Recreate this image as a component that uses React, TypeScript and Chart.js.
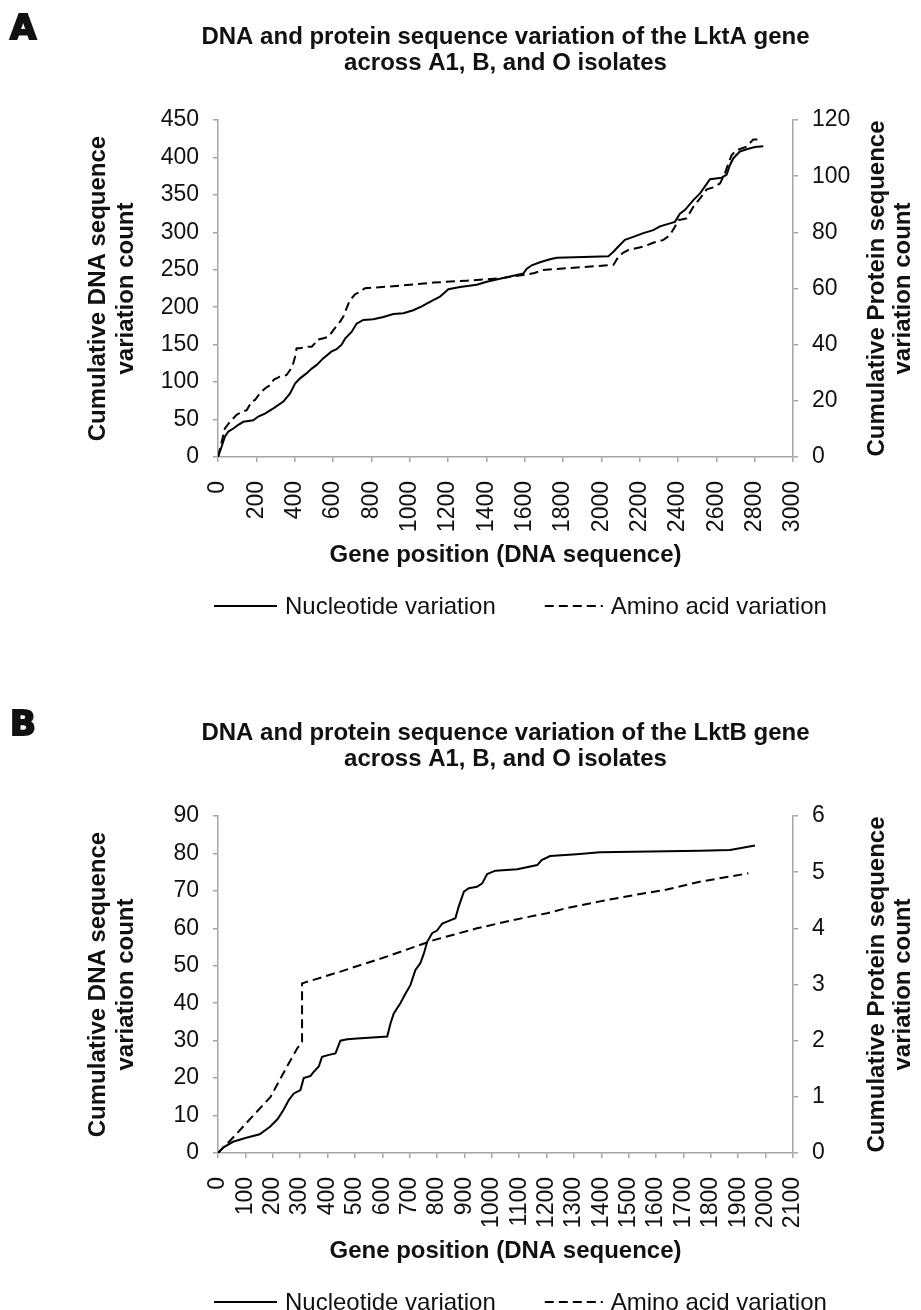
import React, { useEffect, useRef } from 'react';
import { Chart, registerables } from 'chart.js';

Chart.register(...registerables);

const FONT = '"Liberation Sans", Arial, sans-serif';
const AXIS = '#a6a6a6';
const INK = '#111111';

// ---------- Panel A: LktA ----------
const lktaNucPos = [0, 19, 36, 54, 80, 106, 132, 184, 210, 245, 289, 341, 376, 402, 428, 463, 489, 515, 550, 593, 619, 645, 663, 697, 723, 758, 810, 863, 915, 967, 1019, 1063, 1106, 1158, 1202, 1263, 1350, 1402, 1471, 1541, 1593, 1610, 1637, 1680, 1732, 1767, 1906, 2037, 2063, 2089, 2123, 2167, 2219, 2271, 2306, 2358, 2384, 2410, 2437, 2480, 2515, 2567, 2628, 2654, 2671, 2689, 2723, 2758, 2802, 2845];
const lktaNucCount = [0, 14, 27, 34, 38, 43, 47, 49, 54, 58, 65, 74, 85, 98, 105, 112, 118, 123, 132, 141, 144, 150, 158, 167, 178, 183, 184, 187, 191, 192, 196, 201, 207, 214, 224, 227, 230, 234, 238, 242, 245, 251, 256, 260, 264, 266, 267, 268, 274, 281, 290, 294, 299, 303, 308, 312, 314, 325, 330, 343, 352, 371, 373, 377, 390, 399, 408, 411, 414, 415];

const lktaAaPos = [0, 36, 63, 97, 124, 150, 176, 193, 219, 245, 271, 292, 323, 358, 376, 393, 402, 410, 428, 463, 489, 506, 515, 550, 576, 602, 637, 654, 671, 689, 715, 732, 767, 950, 1124, 1297, 1471, 1593, 1645, 1697, 1819, 2063, 2089, 2115, 2141, 2219, 2271, 2324, 2358, 2384, 2402, 2419, 2445, 2480, 2515, 2550, 2584, 2619, 2645, 2663, 2680, 2706, 2758, 2793, 2828];
const lktaAaCount = [0, 10.2, 12.6, 15.0, 16.1, 16.7, 19.7, 20.3, 22.7, 24.4, 25.6, 27.6, 28.6, 29.2, 31.0, 33.4, 35.7, 38.7, 38.7, 39.3, 39.3, 40.5, 41.7, 42.3, 42.8, 45.2, 48.2, 50.0, 53.0, 55.9, 57.9, 58.5, 60.1, 61.0, 62.1, 62.8, 63.6, 64.8, 65.4, 66.6, 67.2, 68.4, 71.3, 72.8, 73.7, 74.9, 76.3, 77.3, 79.0, 82.0, 84.4, 84.6, 85.0, 89.1, 92.1, 95.3, 96.0, 97.4, 101.0, 104.6, 107.5, 109.3, 110.5, 113.1, 113.1];

// ---------- Panel B: LktB ----------
const lktbNucPos = [0, 20, 55, 100, 152, 190, 217, 239, 259, 277, 301, 313, 338, 350, 368, 380, 405, 429, 447, 472, 508, 618, 630, 642, 666, 685, 703, 721, 739, 752, 764, 782, 800, 819, 843, 867, 879, 898, 916, 946, 965, 983, 1013, 1093, 1166, 1182, 1213, 1310, 1395, 1578, 1760, 1870, 1906, 1961];
const lktbNucCount = [0, 1.5, 3, 4, 5, 7, 9, 11.5, 14.2, 15.9, 16.8, 20.0, 20.6, 21.7, 23.1, 25.7, 26.2, 26.6, 30.0, 30.4, 30.6, 31.1, 34.6, 37.3, 40.0, 42.6, 44.9, 48.9, 50.7, 53.3, 56.4, 58.7, 59.4, 61.3, 62.0, 62.7, 65.8, 69.8, 70.7, 71.1, 72.0, 74.5, 75.4, 75.8, 76.9, 78.2, 79.3, 79.8, 80.3, 80.5, 80.7, 80.9, 81.4, 82.1];

const lktbAaPos = [0, 60, 120, 192, 252, 289, 307, 307, 447, 618, 788, 946, 1080, 1202, 1273, 1395, 1517, 1639, 1760, 1937];
const lktbAaCount = [0, 0.3, 0.62, 1.0, 1.54, 1.86, 1.98, 3.02, 3.23, 3.5, 3.79, 4.0, 4.15, 4.27, 4.36, 4.48, 4.59, 4.69, 4.83, 4.98];

// ---------- Text ----------
const legendLabels = ['Nucleotide variation', 'Amino acid variation'];
const xAxisTitle = 'Gene position (DNA sequence)';
const yAxisTitle = ['Cumulative DNA sequence', 'variation count'];
const y1AxisTitle = ['Cumulative Protein sequence', 'variation count'];
const titleA = ['DNA and protein sequence variation of the LktA gene', 'across A1, B, and O isolates'];
const titleB = ['DNA and protein sequence variation of the LktB gene', 'across A1, B, and O isolates'];

const toPoints = (xs: number[], ys: number[]) => xs.map((x, i) => ({ x, y: ys[i] }));

function drawVertical(ctx: CanvasRenderingContext2D, lines: string[], x: number, y: number, step: number) {
  lines.forEach((t, i) => {
    ctx.save();
    ctx.translate(x + i * step, y);
    ctx.rotate(-Math.PI / 2);
    ctx.textAlign = 'center';
    ctx.textBaseline = 'middle';
    ctx.fillText(t, 0, 0);
    ctx.restore();
  });
}

const decorPlugin = {
  id: 'decor',
  afterDraw(chart: any, _args: any, opts: any) {
    const ctx: CanvasRenderingContext2D = chart.ctx;
    const a = chart.chartArea;
    const cx = (a.left + a.right) / 2;
    const cy = (a.top + a.bottom) / 2;
    ctx.save();
    ctx.fillStyle = INK;
    ctx.strokeStyle = INK;
    // panel letter
    ctx.font = 'bold 34px "DejaVu Sans", sans-serif';
    ctx.textAlign = 'left';
    ctx.textBaseline = 'alphabetic';
    ctx.lineWidth = 2;
    ctx.fillText(opts.letter, 10, a.top - 81);
    ctx.strokeText(opts.letter, 10, a.top - 81);
    // chart title
    ctx.font = `bold 24px ${FONT}`;
    ctx.textAlign = 'center';
    opts.title.forEach((t: string, i: number) => ctx.fillText(t, cx, a.top - 76 + i * 25.5));
    // axis titles
    ctx.fillText(xAxisTitle, cx, a.bottom + 105);
    drawVertical(ctx, yAxisTitle, a.left - 120, cy, 28);
    drawVertical(ctx, y1AxisTitle, a.right + 84, cy, 26);
    // legend
    const ds = chart.data.datasets;
    const lineY = a.bottom + 149;
    const textY = a.bottom + 157;
    ctx.font = `24px ${FONT}`;
    ctx.textAlign = 'left';
    ctx.textBaseline = 'alphabetic';
    let x = a.left - 4;
    const sampleW = [63, 58];
    const gapAfter = [49, 0];
    ds.forEach((d: any, i: number) => {
      ctx.save();
      ctx.strokeStyle = d.borderColor;
      ctx.lineWidth = 2;
      ctx.setLineDash(d.borderDash || []);
      ctx.beginPath();
      ctx.moveTo(x, lineY);
      ctx.lineTo(x + sampleW[i], lineY);
      ctx.stroke();
      ctx.restore();
      x += sampleW[i] + 8;
      ctx.fillText(legendLabels[i], x, textY);
      x += ctx.measureText(legendLabels[i]).width + gapAfter[i];
    });
    ctx.restore();
  },
};

type PanelSpec = {
  letter: string;
  title: string[];
  nuc: { x: number; y: number }[];
  aa: { x: number; y: number }[];
  xMax: number;
  xStep: number;
  yMax: number;
  yStep: number;
  y1Max: number;
  y1Step: number;
  height: number;
};

function makeConfig(p: PanelSpec): any {
  const tickFont = { family: FONT, size: 23 };
  const grid = { drawOnChartArea: false, drawTicks: true, tickLength: 5, color: AXIS, lineWidth: 1.5 };
  const border = { color: AXIS, width: 1.5 };
  return {
    type: 'line',
    data: {
      datasets: [
        {
          label: legendLabels[0],
          data: p.nuc,
          yAxisID: 'y',
          borderColor: '#000000',
          borderWidth: 2,
          pointRadius: 0,
          tension: 0,
          fill: false,
        },
        {
          label: legendLabels[1],
          data: p.aa,
          yAxisID: 'y1',
          borderColor: '#000000',
          borderWidth: 2,
          borderDash: [9, 5],
          pointRadius: 0,
          tension: 0,
          fill: false,
        },
      ],
    },
    options: {
      animation: false,
      responsive: true,
      maintainAspectRatio: false,
      layout: { padding: { top: 120, left: 0, right: 0, bottom: 0 } },
      plugins: {
        legend: { display: false },
        tooltip: { enabled: false },
        title: { display: false },
        decor: { letter: p.letter, title: p.title },
      },
      scales: {
        x: {
          type: 'linear',
          min: 0,
          max: p.xMax,
          grid,
          border,
          ticks: {
            stepSize: p.xStep,
            autoSkip: false,
            minRotation: 90,
            maxRotation: 90,
            padding: 19,
            color: INK,
            font: tickFont,
            callback: (v: any) => String(v),
          },
          afterFit: (s: any) => {
            s.height = p.height - 457;
          },
        },
        y: {
          position: 'left',
          min: 0,
          max: p.yMax,
          grid,
          border,
          ticks: { stepSize: p.yStep, padding: 14, color: INK, font: tickFont, callback: (v: any) => String(v) },
          afterFit: (s: any) => {
            s.width = 218;
          },
        },
        y1: {
          position: 'right',
          min: 0,
          max: p.y1Max,
          grid,
          border,
          ticks: { stepSize: p.y1Step, padding: 14, color: INK, font: tickFont, callback: (v: any) => String(v) },
          afterFit: (s: any) => {
            s.width = 128;
          },
        },
      },
    },
    plugins: [decorPlugin],
  };
}

function Panel({ spec }: { spec: PanelSpec }) {
  const ref = useRef<HTMLCanvasElement>(null);
  useEffect(() => {
    const chart = new Chart(ref.current as HTMLCanvasElement, makeConfig(spec));
    return () => chart.destroy();
  }, [spec]);
  return (
    <div style={{ position: 'relative', width: 921, height: spec.height }}>
      <canvas ref={ref} />
    </div>
  );
}

const specA: PanelSpec = {
  letter: 'A',
  title: titleA,
  nuc: toPoints(lktaNucPos, lktaNucCount),
  aa: toPoints(lktaAaPos, lktaAaCount),
  xMax: 3000,
  xStep: 200,
  yMax: 450,
  yStep: 50,
  y1Max: 120,
  y1Step: 20,
  height: 696,
};

const specB: PanelSpec = {
  letter: 'B',
  title: titleB,
  nuc: toPoints(lktbNucPos, lktbNucCount),
  aa: toPoints(lktbAaPos, lktbAaCount),
  xMax: 2100,
  xStep: 100,
  yMax: 90,
  yStep: 10,
  y1Max: 6,
  y1Step: 1,
  height: 614,
};

export default function App() {
  return (
    <div
      style={{
        position: 'absolute',
        left: 0,
        top: 0,
        width: 921,
        height: 1310,
        overflow: 'hidden',
        background: '#ffffff',
      }}
    >
      <Panel spec={specA} />
      <Panel spec={specB} />
    </div>
  );
}
